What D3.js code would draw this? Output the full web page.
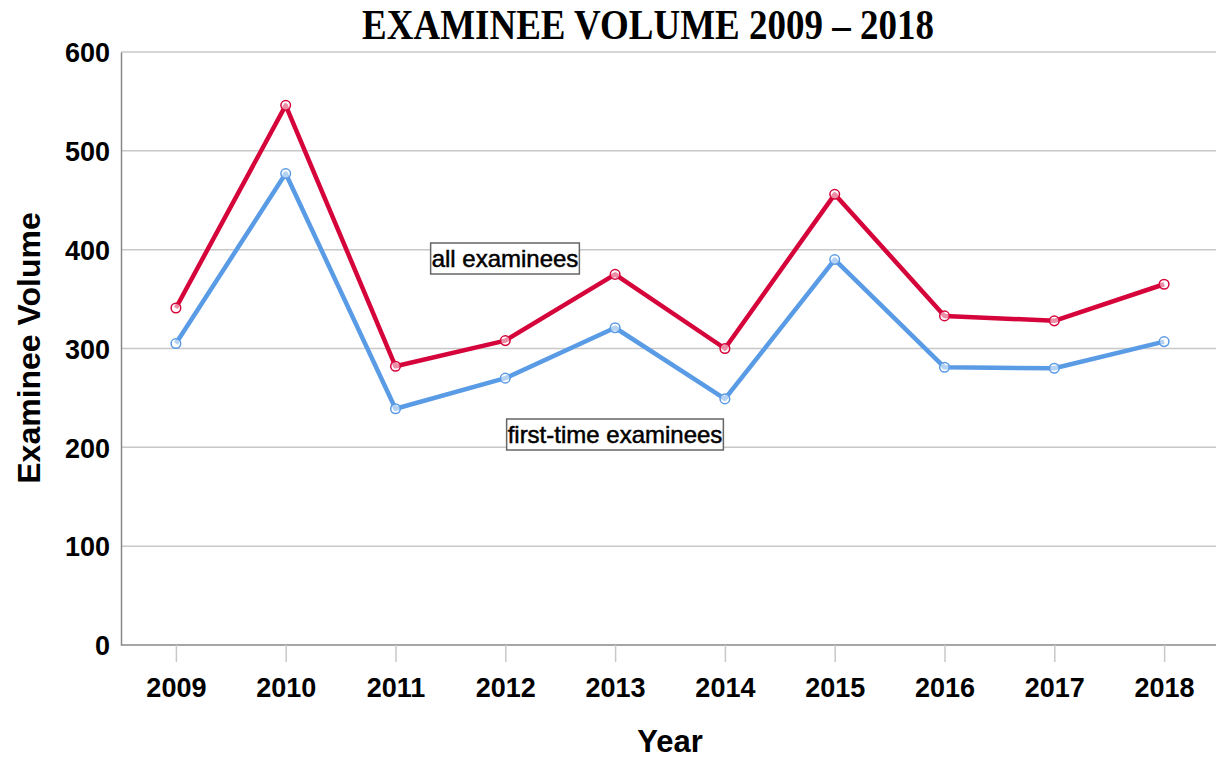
<!DOCTYPE html>
<html><head><meta charset="utf-8">
<script src="https://cdn.jsdelivr.net/npm/d3@7"></script>
<style>body{margin:0;background:#fff}svg{display:block}</style>
</head><body>
<svg id="c" width="1216" height="760"></svg>
<script>
const years = ["2009","2010","2011","2012","2013","2014","2015","2016","2017","2018"];
const allExaminees = [341,546,282,308,375,300,456,333,328,365];
const firstTime = [305,477,239,270,321,249,390,281,280,307];
const yTicks = [0,100,200,300,400,500,600];

const svg = d3.select("#c");
const L=121, R=1219, T=52, B=645;
const x = d3.scalePoint().domain(years).range([L,R]).padding(0.5);
const y = d3.scaleLinear().domain([0,600]).range([B,T]);
const SANS = "Liberation Sans, Arial, sans-serif";

// gridlines
svg.append("g").selectAll("line").data(yTicks.filter(d=>d>0)).join("line")
  .attr("x1",L).attr("x2",1216).attr("y1",d=>y(d)).attr("y2",d=>y(d))
  .attr("stroke","#c8c8c8").attr("stroke-width",1.5);

// y axis
const ya = svg.append("g").attr("transform",`translate(${L},0)`)
  .call(d3.axisLeft(y).tickValues(yTicks).tickSize(0).tickPadding(11));
ya.select(".domain").attr("stroke","#888").attr("stroke-width",1.5);
ya.selectAll("text").attr("font-family",SANS)
  .attr("font-size",27).attr("font-weight","bold").attr("fill","#000").attr("dy","0.36em");

// x axis
const xa = svg.append("g").attr("transform",`translate(0,${B})`)
  .call(d3.axisBottom(x).tickSize(17).tickPadding(16).tickSizeOuter(0));
xa.select(".domain").attr("d",`M${L},0H1216`).attr("stroke","#888").attr("stroke-width",1.5);
xa.selectAll(".tick line").attr("stroke","#c8c8c8").attr("stroke-width",1.5);
xa.selectAll("text").attr("font-family",SANS)
  .attr("font-size",27).attr("font-weight","bold").attr("fill","#000");

// lines
const series = [
  {vals:firstTime, color:"#5a9be6"},
  {vals:allExaminees, color:"#d5053b"}
];
const line = d3.line().x((d,i)=>x(years[i])).y(d=>y(d));
series.forEach(s=>{
  svg.append("path").datum(s.vals).attr("d",line).attr("fill","none")
    .attr("stroke",s.color).attr("stroke-width",4.5).attr("stroke-linejoin","round");
  svg.append("g").selectAll("circle").data(s.vals).join("circle")
    .attr("cx",(d,i)=>x(years[i])).attr("cy",d=>y(d)).attr("r",4.8)
    .attr("fill","#fff").attr("fill-opacity",0.55).attr("stroke",s.color).attr("stroke-width",1.5);
});

// labels
function label(txt, cx, cy){
  const g = svg.append("g");
  const t = g.append("text").attr("x",cx).attr("y",cy).attr("text-anchor","middle")
    .attr("dominant-baseline","central")
    .attr("font-family",SANS).attr("font-size",24)
    .attr("fill","#000").attr("stroke","#000").attr("stroke-width",0.5).text(txt);
  const bb = t.node().getBBox();
  g.insert("rect","text").attr("x",bb.x-1).attr("y",cy-15).attr("width",bb.width+2).attr("height",31)
    .attr("fill","#fff").attr("stroke","#666").attr("stroke-width",1.5);
}
label("all examinees", 505, 258);
label("first-time examinees", 615, 434);

// titles
svg.append("text").attr("transform","translate(648,39) scale(1,1.12)").attr("text-anchor","middle")
  .attr("font-family","Liberation Serif, Times New Roman, serif").attr("font-weight","bold")
  .attr("font-size",37).text("EXAMINEE VOLUME 2009 – 2018");
svg.append("text").attr("x",670).attr("y",752).attr("text-anchor","middle")
  .attr("font-family",SANS).attr("font-weight","bold")
  .attr("font-size",31).text("Year");
svg.append("text").attr("transform","translate(40,348) rotate(-90)").attr("text-anchor","middle")
  .attr("font-family",SANS).attr("font-weight","bold")
  .attr("font-size",32).text("Examinee Volume");
</script>
</body></html>
